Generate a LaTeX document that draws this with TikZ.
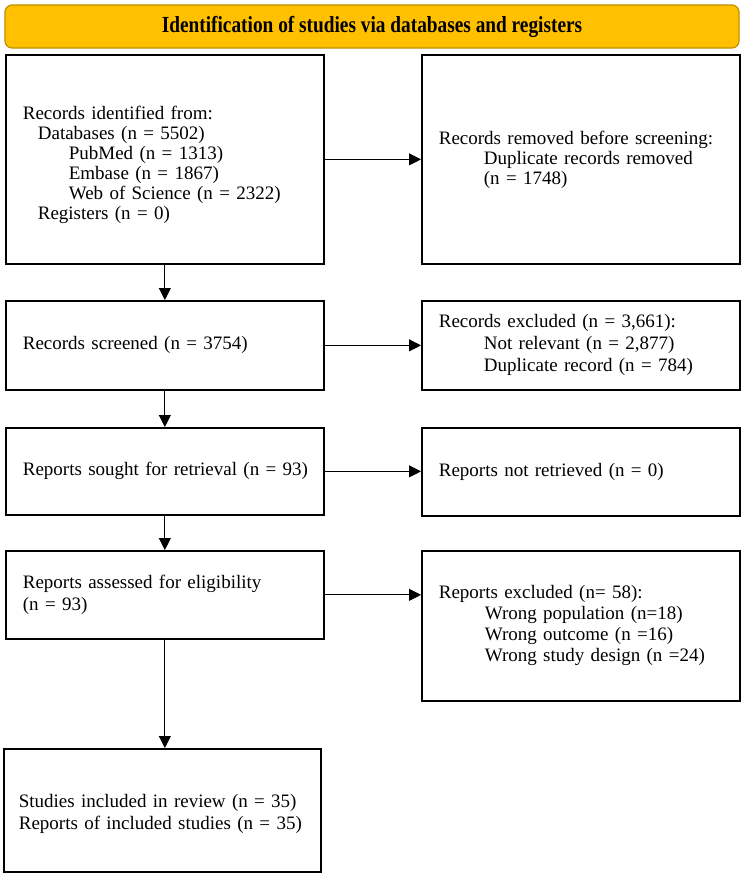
\documentclass[tikz,border=0pt]{standalone}
\usepackage{fontspec}
\usepackage{graphicx}
\setmainfont{Liberation Serif}
\usetikzlibrary{arrows.meta}
\definecolor{hdrfill}{HTML}{FFC000}
\definecolor{hdrdraw}{HTML}{BF9000}
\begin{document}
\begin{tikzpicture}[x=1bp,y=-1bp,
  box/.style={draw, line width=1.7bp, align=left, anchor=north west,
    inner xsep=17bp, inner ysep=0pt, text width=284bp,
    font=\fontsize{19bp}{22bp}\selectfont},
  tight/.style={font=\fontsize{19bp}{20bp}\selectfont},
  hdr/.style={draw=hdrdraw, fill=hdrfill, line width=1.2bp, rounded corners=7bp,
    minimum width=734bp, minimum height=43bp, inner sep=0pt,
    font=\bfseries\fontsize{23bp}{25bp}\selectfont},
  arr/.style={line width=0.9bp, -{Triangle[length=12bp,width=12bp]}}]
\useasboundingbox (0,0) rectangle (744,873);
\node[hdr] (hdr) at (372,26.5) {\scalebox{0.84}[1]{Identification of studies via databases and registers}};

\node[box, tight, minimum height=209bp] (b1) at (5,54) {\rule{0pt}{24bp}Records identified from:\\
\hspace*{15bp}Databases (n = 5502)\\
\hspace*{46bp}PubMed (n = 1313)\\
\hspace*{46bp}Embase (n = 1867)\\
\hspace*{46bp}Web of Science (n = 2322)\\
\hspace*{15bp}Registers (n = 0)};
\node[box, tight, minimum height=209bp] (r1) at (421,54) {Records removed before screening:\\
\hspace*{45bp}Duplicate records removed\\
\hspace*{45bp}(n = 1748)};

\node[box, minimum height=89bp] (b2) at (5,300) {Records screened (n = 3754)};
\node[box, minimum height=89bp] (r2) at (421,300) {Records excluded (n = 3,661):\\
\hspace*{45bp}Not relevant (n = 2,877)\\
\hspace*{45bp}Duplicate record (n = 784)};

\node[box, minimum height=87bp] (b3) at (5,427) {\mbox{Reports sought for retrieval (n = 93)}};
\node[box, minimum height=88bp] (r3) at (421,427) {Reports not retrieved (n = 0)};

\node[box, minimum height=88bp] (b4) at (5,550) {Reports assessed for eligibility\\(n = 93)};
\node[box, tight, font=\fontsize{19bp}{21bp}\selectfont, minimum height=150bp] (r4) at (421,550) {Reports excluded (n= 58):\\
\hspace*{46bp}Wrong population (n=18)\\
\hspace*{46bp}Wrong outcome (n =16)\\
\hspace*{46bp}Wrong study design (n =24)};

\node[box, minimum height=123bp, inner xsep=15bp, text width=287bp] (b5) at (3,748) {\rule{0pt}{20bp}Studies included in review (n = 35)\\
Reports of included studies (n = 35)};

\draw[arr] (b1.east) -- (b1.east -| r1.west);
\draw[arr] (b2.east) -- (b2.east -| r2.west);
\draw[arr] (b3.east) -- (b3.east -| r3.west);
\draw[arr] (b4.east) -- (b4.east -| r4.west);
\draw[arr] (b1.south) -- (b2.north);
\draw[arr] (b2.south) -- (b3.north);
\draw[arr] (b3.south) -- (b4.north);
\draw[arr] (b4.south) -- (b4.south |- b5.north);
\end{tikzpicture}
\end{document}
